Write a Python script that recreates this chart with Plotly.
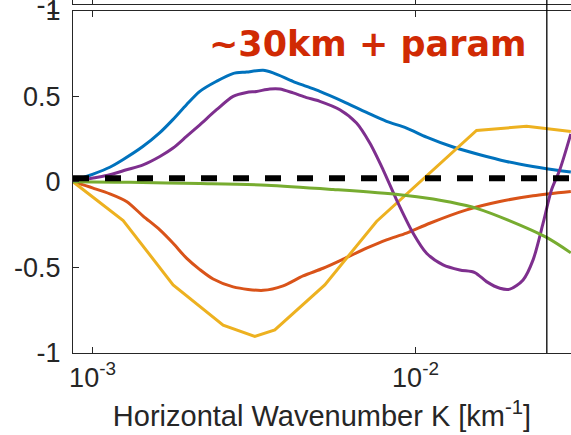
import plotly.graph_objects as go

# ---------------- data ----------------
blue_k = [8.7e-4, 1.004e-3, 1.131e-3, 1.241e-3, 1.431e-3, 1.616e-3, 1.773e-3, 1.954e-3,
          2.149e-3, 2.421e-3, 2.719e-3, 2.998e-3, 3.374e-3, 3.623e-3, 4.170e-3, 4.597e-3,
          5.055e-3, 5.955e-3, 7.052e-3, 8.132e-3, 9.379e-3, 1.082e-2, 1.307e-2, 1.582e-2,
          1.913e-2, 2.308e-2, 2.545e-2, 3.026e-2]
blue_v = [0.005, 0.045, 0.085, 0.129, 0.206, 0.287, 0.363, 0.450,
          0.528, 0.587, 0.632, 0.641, 0.651, 0.636, 0.587, 0.557,
          0.528, 0.470, 0.405, 0.353, 0.314, 0.261, 0.203, 0.158,
          0.119, 0.089, 0.076, 0.057]

orange_k = [8.7e-4, 1.004e-3, 1.131e-3, 1.274e-3, 1.434e-3, 1.616e-3, 1.776e-3, 1.954e-3,
            2.149e-3, 2.363e-3, 2.725e-3, 3.374e-3, 3.891e-3, 4.487e-3, 5.175e-3, 5.969e-3,
            7.052e-3, 8.132e-3, 9.379e-3, 1.107e-2, 1.439e-2, 1.824e-2, 2.312e-2, 3.026e-2]
orange_v = [0.0, -0.037, -0.070, -0.115, -0.200, -0.281, -0.359, -0.446,
            -0.513, -0.568, -0.614, -0.634, -0.608, -0.550, -0.505, -0.452,
            -0.388, -0.339, -0.300, -0.242, -0.164, -0.115, -0.082, -0.057]

yellow_k = [8.7e-4, 1.244e-3, 1.776e-3, 2.537e-3, 3.180e-3, 3.668e-3, 5.238e-3,
            7.573e-3, 1.545e-2, 2.207e-2, 3.026e-2]
yellow_v = [0.0, -0.226, -0.602, -0.838, -0.903, -0.865, -0.602,
            -0.232, 0.300, 0.324, 0.294]

purple_k = [8.7e-4, 1.004e-3, 1.131e-3, 1.274e-3, 1.434e-3, 1.616e-3, 1.776e-3, 1.954e-3,
            2.149e-3, 2.421e-3, 2.725e-3, 2.998e-3, 3.219e-3, 3.539e-3, 3.801e-3, 4.179e-3,
            4.597e-3, 5.055e-3, 5.829e-3, 6.567e-3, 7.219e-3, 7.937e-3, 8.734e-3, 9.831e-3,
            1.082e-2, 1.217e-2, 1.371e-2, 1.526e-2, 1.659e-2, 1.824e-2, 1.959e-2, 2.153e-2,
            2.312e-2, 2.483e-2, 2.637e-2, 2.797e-2, 3.026e-2]
purple_v = [0.0, 0.022, 0.041, 0.070, 0.099, 0.148, 0.197, 0.265,
            0.333, 0.421, 0.499, 0.522, 0.528, 0.542, 0.542, 0.519,
            0.492, 0.470, 0.421, 0.343, 0.226, 0.070, -0.105, -0.300,
            -0.417, -0.485, -0.515, -0.530, -0.583, -0.622, -0.627, -0.573,
            -0.456, -0.242, -0.047, 0.070, 0.280]

green_k = [8.7e-4, 1.004e-3, 1.306e-3, 2.149e-3, 3.457e-3, 5.558e-3, 8.941e-3, 1.134e-2,
           1.277e-2, 1.545e-2, 1.959e-2, 2.545e-2, 3.026e-2]
green_v = [0.0, -0.001, -0.003, -0.010, -0.020, -0.045, -0.075, -0.100,
           -0.118, -0.155, -0.228, -0.325, -0.415]

ref_k = [8.7e-4, 3.03e-2]
ref_v = [0.02, 0.02]

k_marker = 0.0255

x_tick_vals = [1e-3, 1e-2]
x_tick_text = ["10<sup>-3</sup>", "10<sup>-2</sup>"]
y_tick_vals = [-1, -0.5, 0, 0.5, 1]
y_tick_text = ["-1", "-0.5", "0", "0.5", "1"]
x_range = [-3.0605, -1.5186]  # log10 of axis limits

# ---------------- figure ----------------
AX = "#262626"
FONT = "Liberation Sans, Arial, sans-serif"
TICKSIZE = 27

fig = go.Figure()
series = [
    (blue_k, blue_v, "#0072BD", "spline"),
    (orange_k, orange_v, "#D95319", "spline"),
    (yellow_k, yellow_v, "#EDB120", "linear"),
    (purple_k, purple_v, "#7E2F8E", "spline"),
    (green_k, green_v, "#77AC30", "spline"),
]
for k, v, c, shape in series:
    fig.add_trace(go.Scatter(x=k, y=v, mode="lines",
                             line=dict(color=c, width=3, shape=shape, smoothing=0.8),
                             showlegend=False, hoverinfo="skip"))
fig.add_trace(go.Scatter(x=ref_k, y=ref_v, mode="lines",
                         line=dict(color="black", width=6, dash="16px,16px"),
                         showlegend=False, hoverinfo="skip"))
# upper (mostly cropped) panel: an empty trace so that its axes are built
fig.add_trace(go.Scatter(x=[], y=[], mode="lines", xaxis="x2", yaxis="y2",
                         showlegend=False, hoverinfo="skip"))

fig.add_shape(type="line", xref="x", yref="paper", x0=k_marker, x1=k_marker,
              y0=0, y1=1, line=dict(color="black", width=1.3), layer="above")

fig.add_annotation(text="~30km + param", xref="paper", yref="paper",
                   x=0.592, y=0.875, xanchor="center", yanchor="middle", showarrow=False,
                   font=dict(family="DejaVu Sans", size=35, color="#D02A04", weight="bold"))

axis_common = dict(showline=True, linecolor=AX, linewidth=1.3, ticks="inside",
                   ticklen=6, tickwidth=1.3, tickcolor=AX, showgrid=False, zeroline=False,
                   automargin=False, ticklabeloverflow="allow",
                   tickfont=dict(family=FONT, size=TICKSIZE, color=AX))

fig.update_layout(
    width=571, height=435,
    margin=dict(l=73, r=0, t=0, b=82, autoexpand=False),
    paper_bgcolor="white", plot_bgcolor="white",
    xaxis=dict(type="log", range=x_range, domain=[0, 1], anchor="y", mirror="ticks",
               tickvals=x_tick_vals, ticktext=x_tick_text,
               title=dict(text="Horizontal Wavenumber K [km<sup>-1</sup>]",
                          font=dict(family=FONT, size=29, color=AX), standoff=14),
               **axis_common),
    yaxis=dict(range=[-1, 1], domain=[0, 0.970], anchor="x",
               tickvals=y_tick_vals, ticktext=y_tick_text, ticklabelstandoff=6,
               **axis_common),
    xaxis2=dict(type="log", range=x_range, domain=[0, 1], anchor="y2",
                tickvals=x_tick_vals, showticklabels=False, **axis_common),
    yaxis2=dict(range=[-1, -0.9], domain=[0.9878, 1.0], anchor="x2",
                tickvals=[-1], ticktext=["-1"], ticklabelstandoff=6, **axis_common),
)

fig.write_html("out.html", config={"displayModeBar": False},
               post_script="document.body.style.margin='0px';document.body.style.overflow='hidden';")
